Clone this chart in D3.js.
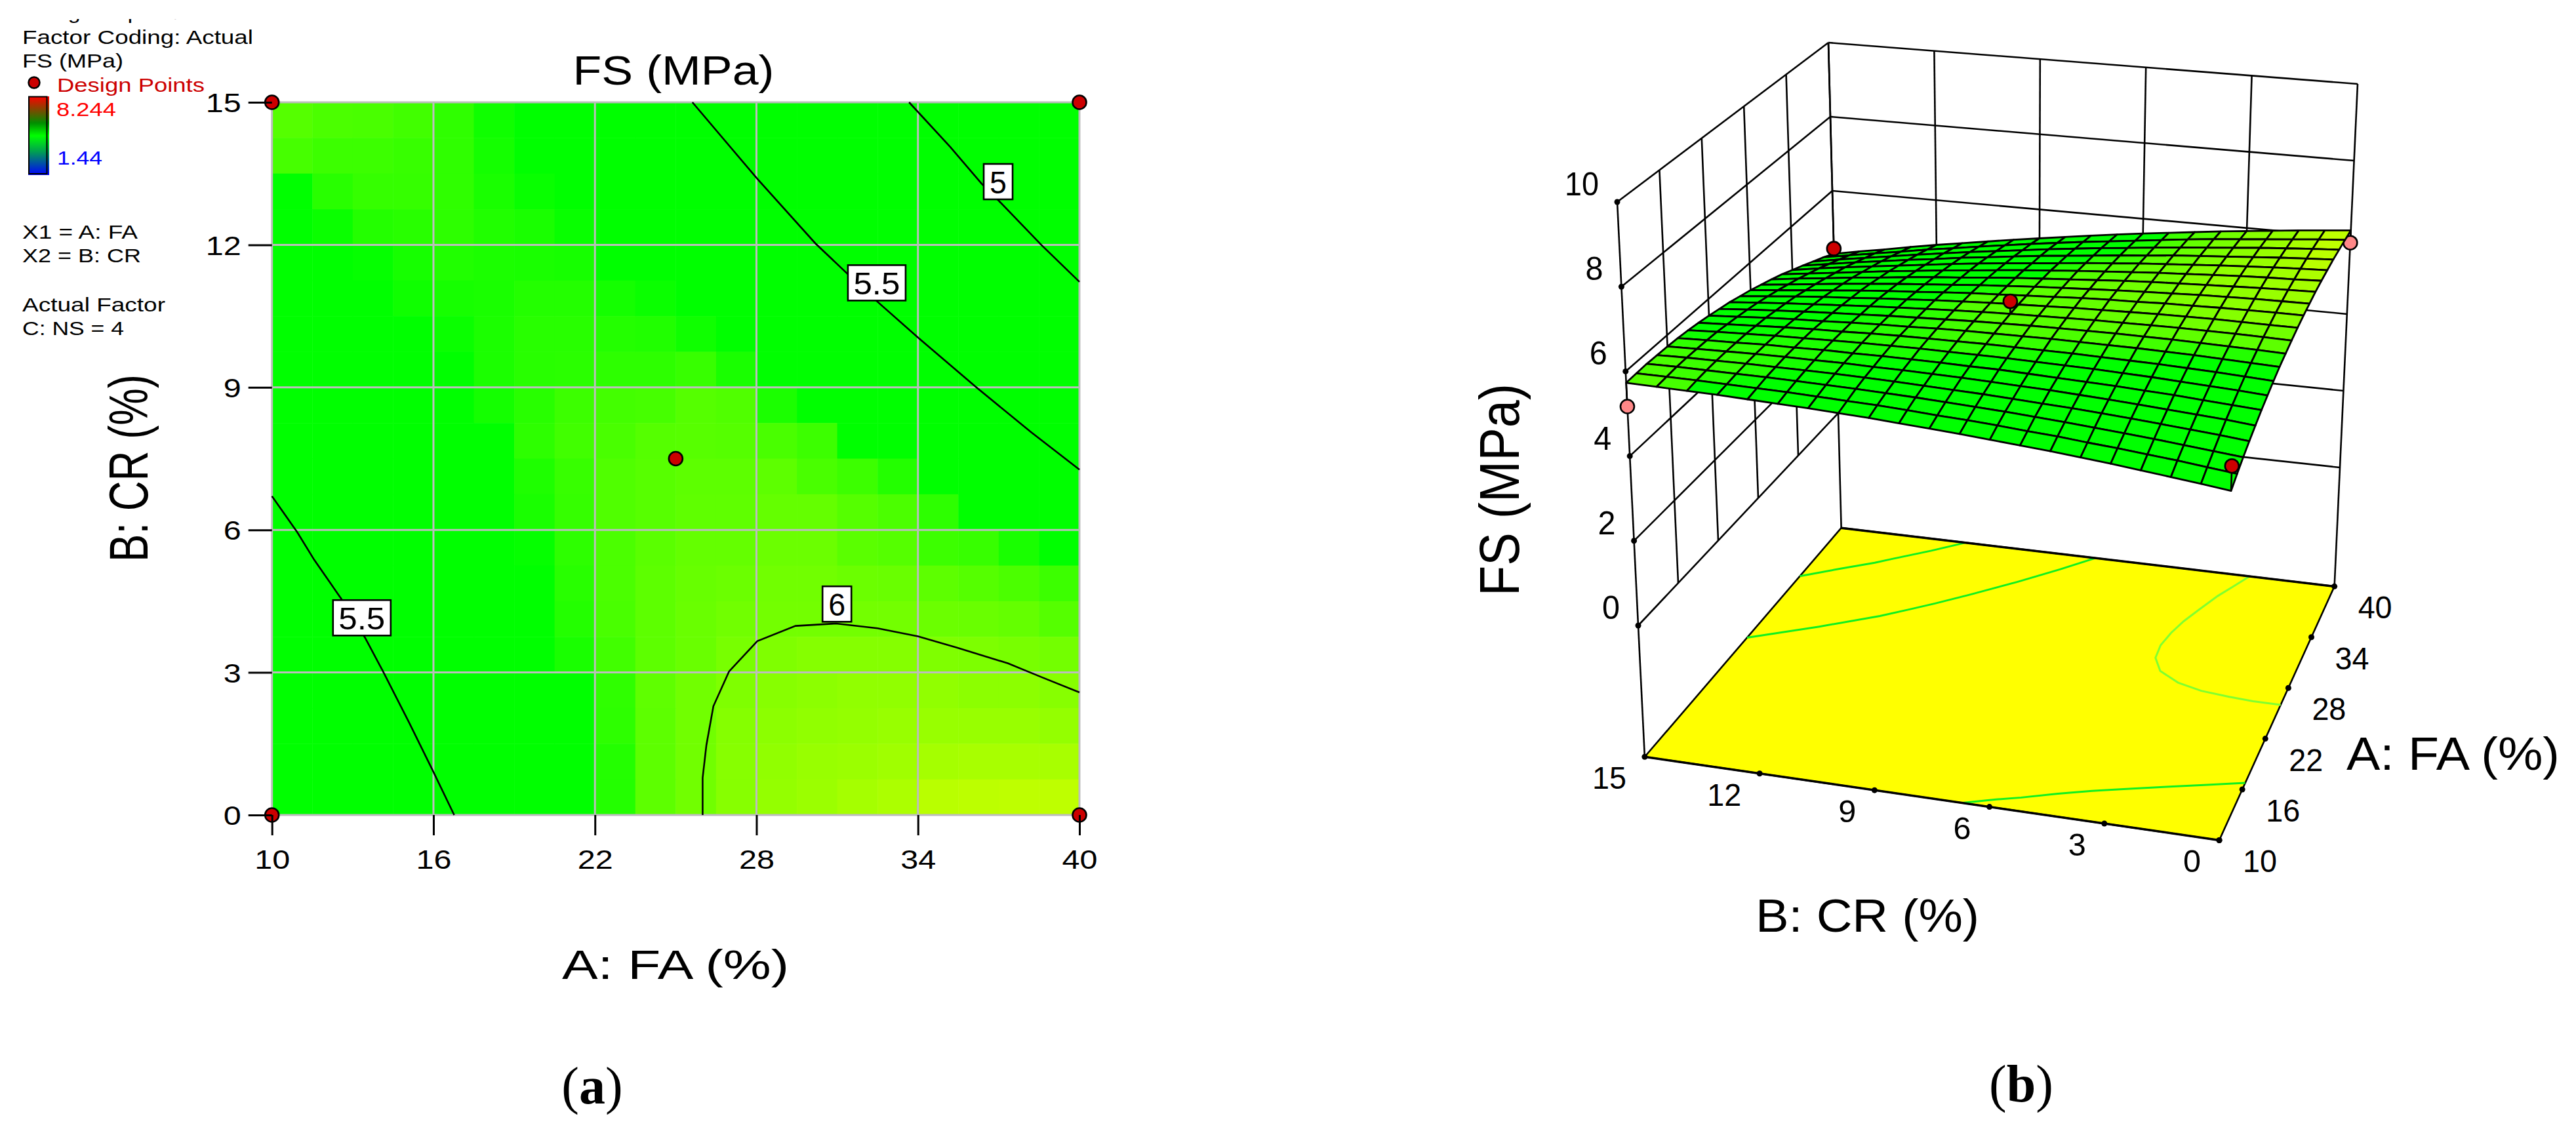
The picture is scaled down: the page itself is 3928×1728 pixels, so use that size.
<!DOCTYPE html>
<html><head><meta charset="utf-8">
<style>html,body{margin:0;padding:0;background:#fff}svg{display:block}text{font-family:"Liberation Sans",Arial,sans-serif}</style>
<script src="https://cdn.jsdelivr.net/npm/d3@7/dist/d3.min.js"></script>
</head><body><svg id="c" width="3928" height="1728"></svg>
<script>
// ---------- data ----------
const chartTitle = "FS (MPa)";
const xTitle = "A: FA (%)";
const yTitle = "B: CR (%)";
const zTitle = "FS (MPa)";
const aTicks = [10,16,22,28,34,40];
const bTicks = [0,3,6,9,12,15];
const zTicks = [0,2,4,6,8,10];
const legendLines = ["Design-Expert® Software","Factor Coding: Actual","FS (MPa)"];
const factorLines = ["X1 = A: FA","X2 = B: CR"];
const actualLines = ["Actual Factor","C: NS = 4"];
const legendHigh = "8.244", legendLow = "1.44", legendPoints = "Design Points";
const captions = ["a","b"];

const designA = [10,40,10,40,25];
const designB = [15,15,0,0,7.5];
const designZ = [5.17,4.44,5.47,5.86,6.23];

const contour5   = [[33.67,15],[35.2,14.06],[36.36,13.29],[37,12.93],[38.58,12],[40,11.22]];
const contour55a = [[25.62,15],[28.03,13.39],[30.19,12.03],[31.4,11.38],[32.46,10.82],[34,10.05],[36.17,9],[38.2,8.06],[40,7.27]];
const contour55b = [[10,6.71],[10.94,5.95],[11.57,5.37],[12.6,4.53],[13.46,3.73],[14.1,3.05],[15.1,1.94],[15.97,.94],[16.77,0]];
const contour6   = [[26,0],[26,.78],[26.14,1.47],[26.4,2.29],[26.98,3.02],[28.03,3.66],[29.45,3.98],[30.96,4.03],[32.5,3.93],[34,3.76],[35.47,3.52],[37.35,3.19],[38.6,2.9],[40,2.58]];
const contourLevels = [5,5.5,5.5,6];
const contourLabelA = [36.98,32.47,13.34,30.99];
const contourLabelB = [13.33,11.2,4.15,4.44];

// FS per map cell: rows from B = 15 down to B = 0, columns A = 10 to 40
const fsCells = [
[5.79,5.75,5.74,5.71,5.64,5.51,5.40,5.40,5.40,5.40,5.40,5.40,5.40,5.40,5.40,5.40,5.40,5.40,5.40,5.40],
[5.73,5.69,5.69,5.67,5.64,5.53,5.40,5.40,5.40,5.40,5.40,5.40,5.40,5.40,5.40,5.40,5.40,5.40,5.40,5.40],
[5.40,5.61,5.66,5.66,5.64,5.55,5.48,5.40,5.40,5.40,5.40,5.40,5.40,5.40,5.40,5.40,5.40,5.40,5.40,5.40],
[5.40,5.49,5.59,5.61,5.63,5.58,5.55,5.48,5.40,5.40,5.40,5.40,5.40,5.40,5.40,5.40,5.40,5.40,5.40,5.40],
[5.40,5.40,5.47,5.54,5.58,5.56,5.55,5.54,5.40,5.40,5.40,5.40,5.40,5.40,5.40,5.40,5.40,5.40,5.40,5.40],
[5.40,5.40,5.40,5.51,5.54,5.55,5.59,5.59,5.53,5.49,5.40,5.40,5.40,5.40,5.40,5.40,5.40,5.40,5.40,5.40],
[5.40,5.40,5.40,5.40,5.49,5.56,5.61,5.61,5.59,5.58,5.51,5.40,5.40,5.40,5.40,5.40,5.40,5.40,5.40,5.40],
[5.40,5.40,5.40,5.40,5.40,5.56,5.61,5.62,5.63,5.63,5.67,5.55,5.40,5.40,5.40,5.40,5.40,5.40,5.40,5.40],
[5.40,5.40,5.40,5.40,5.40,5.53,5.61,5.69,5.72,5.73,5.79,5.77,5.56,5.40,5.40,5.40,5.40,5.40,5.40,5.40],
[5.40,5.40,5.40,5.40,5.40,5.40,5.63,5.71,5.74,5.79,5.80,5.79,5.74,5.69,5.40,5.40,5.40,5.40,5.40,5.40],
[5.40,5.40,5.40,5.40,5.40,5.40,5.57,5.67,5.77,5.80,5.82,5.82,5.82,5.74,5.69,5.59,5.40,5.40,5.40,5.40],
[5.40,5.40,5.40,5.40,5.40,5.40,5.55,5.66,5.77,5.80,5.83,5.83,5.85,5.85,5.79,5.75,5.63,5.40,5.40,5.40],
[5.40,5.40,5.40,5.40,5.40,5.40,5.47,5.63,5.75,5.81,5.85,5.85,5.88,5.88,5.81,5.79,5.69,5.67,5.55,5.40],
[5.40,5.40,5.40,5.40,5.40,5.40,5.40,5.61,5.75,5.82,5.86,5.88,5.90,5.90,5.88,5.87,5.82,5.79,5.75,5.69],
[5.40,5.40,5.40,5.40,5.40,5.40,5.40,5.59,5.74,5.82,5.87,5.90,5.91,5.91,5.91,5.91,5.88,5.87,5.85,5.79],
[5.40,5.40,5.40,5.40,5.40,5.40,5.40,5.55,5.71,5.82,5.87,5.93,5.96,5.98,5.98,5.98,5.96,5.95,5.93,5.91],
[5.40,5.40,5.40,5.40,5.40,5.40,5.40,5.40,5.64,5.83,5.90,5.96,5.99,6.01,6.03,6.03,6.03,6.01,6.01,5.99],
[5.40,5.40,5.40,5.40,5.40,5.40,5.40,5.40,5.63,5.82,5.90,5.98,6.01,6.03,6.04,6.06,6.06,6.06,6.06,6.04],
[5.40,5.40,5.40,5.40,5.40,5.40,5.40,5.40,5.59,5.82,5.90,5.99,6.03,6.06,6.07,6.09,6.11,6.12,6.12,6.12],
[5.40,5.40,5.40,5.40,5.40,5.40,5.40,5.40,5.59,5.82,5.90,5.99,6.04,6.07,6.11,6.14,6.19,6.20,6.21,6.21]
];

// FS at surface mesh nodes: rows from B = 0 up to B = 15, columns A = 10 to 40
const fsNodes = [
[4.90,5.05,5.19,5.32,5.44,5.56,5.66,5.76,5.85,5.92,5.99,6.05,6.10,6.14,6.18,6.20,6.21,6.22,6.21,6.20,6.18],
[4.98,5.12,5.25,5.38,5.50,5.60,5.70,5.79,5.87,5.94,6.00,6.05,6.10,6.13,6.16,6.17,6.18,6.18,6.17,6.15,6.12],
[5.05,5.19,5.31,5.43,5.54,5.64,5.73,5.82,5.89,5.95,6.01,6.05,6.09,6.12,6.14,6.15,6.15,6.14,6.12,6.09,6.06],
[5.12,5.25,5.37,5.48,5.58,5.68,5.76,5.84,5.91,5.96,6.01,6.05,6.08,6.10,6.11,6.12,6.11,6.09,6.07,6.03,5.99],
[5.19,5.31,5.42,5.53,5.62,5.71,5.79,5.86,5.92,5.97,6.01,6.04,6.06,6.08,6.08,6.08,6.07,6.04,6.01,5.97,5.92],
[5.25,5.36,5.47,5.57,5.66,5.74,5.81,5.87,5.93,5.97,6.00,6.03,6.05,6.05,6.05,6.04,6.02,5.99,5.95,5.91,5.85],
[5.31,5.42,5.52,5.61,5.69,5.76,5.83,5.88,5.93,5.97,5.99,6.01,6.02,6.02,6.02,6.00,5.97,5.94,5.89,5.84,5.77],
[5.36,5.46,5.56,5.64,5.72,5.78,5.84,5.89,5.93,5.96,5.98,5.99,6.00,5.99,5.98,5.95,5.92,5.87,5.82,5.76,5.69],
[5.41,5.51,5.60,5.67,5.74,5.80,5.85,5.89,5.93,5.95,5.96,5.97,5.97,5.95,5.93,5.90,5.86,5.81,5.75,5.68,5.61],
[5.46,5.55,5.63,5.70,5.76,5.82,5.86,5.89,5.92,5.94,5.94,5.94,5.93,5.91,5.88,5.85,5.80,5.74,5.68,5.60,5.52],
[5.50,5.58,5.66,5.72,5.78,5.82,5.86,5.89,5.91,5.92,5.92,5.91,5.89,5.87,5.83,5.79,5.73,5.67,5.60,5.52,5.43],
[5.54,5.62,5.69,5.74,5.79,5.83,5.86,5.88,5.90,5.90,5.89,5.88,5.85,5.82,5.78,5.73,5.66,5.60,5.52,5.43,5.33],
[5.58,5.65,5.71,5.76,5.80,5.83,5.86,5.87,5.88,5.87,5.86,5.84,5.81,5.77,5.72,5.66,5.59,5.52,5.43,5.34,5.23],
[5.61,5.67,5.73,5.77,5.80,5.83,5.85,5.86,5.85,5.84,5.82,5.80,5.76,5.71,5.65,5.59,5.52,5.43,5.34,5.24,5.13],
[5.64,5.69,5.74,5.78,5.81,5.82,5.84,5.84,5.83,5.81,5.78,5.75,5.70,5.65,5.59,5.52,5.44,5.35,5.25,5.14,5.02],
[5.66,5.71,5.75,5.78,5.80,5.82,5.82,5.81,5.80,5.77,5.74,5.70,5.65,5.59,5.52,5.44,5.35,5.25,5.15,5.03,4.91],
[5.68,5.72,5.76,5.78,5.80,5.80,5.80,5.79,5.76,5.73,5.69,5.64,5.59,5.52,5.44,5.36,5.26,5.16,5.05,4.93,4.80],
[5.70,5.73,5.76,5.78,5.79,5.79,5.78,5.76,5.73,5.69,5.64,5.59,5.52,5.45,5.37,5.27,5.17,5.06,4.94,4.81,4.68],
[5.71,5.74,5.76,5.77,5.77,5.76,5.75,5.72,5.69,5.64,5.59,5.53,5.45,5.37,5.28,5.18,5.08,4.96,4.83,4.70,4.55],
[5.72,5.74,5.76,5.76,5.75,5.74,5.72,5.68,5.64,5.59,5.53,5.46,5.38,5.29,5.20,5.09,4.98,4.85,4.72,4.58,4.43],
[5.73,5.74,5.75,5.74,5.73,5.71,5.68,5.64,5.59,5.53,5.47,5.39,5.31,5.21,5.11,5.00,4.87,4.74,4.60,4.46,4.30]
];

// ---------- layout ----------
const svg = d3.select("#c");
const defs = svg.append("defs");
const FLOOR = -3.1;
const plot = {l:414.7,r:1646,t:156,b:1243};
const corners3d = {
  front:{z0:[3391,1075],z10:[3413.5,409]},
  right:{z0:[3568,713],z10:[3595,128]},
  left:{z0:[2498,954],z10:[2466,308]},
  back:{z0:[2803,630],z10:[2788,65]}
};
const colorOf = d3.scaleLinear().domain([5.45,6.21]).range(["#00ff00","#beff00"]).clamp(true);

function txt(g,x,y,s,o){
  const t=g.append("text").attr("x",x).attr("y",y).text(s)
    .attr("font-size",o.size).attr("fill",o.fill||"#000")
    .attr("text-anchor",o.anchor||"start");
  if(o.width){t.attr("textLength",o.width).attr("lengthAdjust","spacingAndGlyphs");}
  if(o.rotate!=null){t.attr("transform",`rotate(${o.rotate} ${x} ${y})`);}
  return t;
}

// ---------- legend ----------
const lg = svg.append("g");
defs.append("clipPath").attr("id","cut").append("rect").attr("x",0).attr("y",29).attr("width",500).attr("height",60);
const legendY=[28.5,67,103], legendW=[393,352,154];
legendLines.forEach((s,i)=>{
  const t=txt(lg,34,legendY[i],s,{size:29,width:legendW[i]});
  if(i===0) t.attr("clip-path","url(#cut)");
});
factorLines.forEach((s,i)=>txt(lg,34,[363.5,400][i],s,{size:29,width:[176,181][i]}));
actualLines.forEach((s,i)=>txt(lg,34,[474.5,511][i],s,{size:29,width:[218,155][i]}));
txt(lg,87,140,legendPoints,{size:29,width:225,fill:"#cc0000"});
lg.append("circle").attr("cx",52).attr("cy",126).attr("r",8.5).attr("fill","#cc0000").attr("stroke","#000").attr("stroke-width",2.5);
const grad=defs.append("linearGradient").attr("id","bar").attr("x1",0).attr("y1",0).attr("x2",0).attr("y2",1);
[[0,"#ff0000"],[.34,"#008f00"],[.5,"#00ff00"],[.7,"#00a050"],[1,"#0000ff"]].forEach(d=>grad.append("stop").attr("offset",d[0]).attr("stop-color",d[1]));
lg.append("rect").attr("x",43).attr("y",147).attr("width",32).attr("height",120).attr("fill","url(#bar)");
lg.append("rect").attr("x",44).attr("y",147.5).attr("width",27.5).attr("height",117.5).attr("fill","none").attr("stroke","#000").attr("stroke-width",2);
txt(lg,86,177,legendHigh,{size:29,width:91,fill:"#ff0000"});
txt(lg,87,251,legendLow,{size:29,width:69,fill:"#0000ff"});

// ---------- left: contour map ----------
const x = d3.scaleLinear().domain([10,40]).range([plot.l,plot.r]);
const y = d3.scaleLinear().domain([0,15]).range([plot.b,plot.t]);
const map = svg.append("g");
const nCols=fsCells[0].length, nRows=fsCells.length;
const colX=d3.scaleLinear().domain([0,nCols]).range([plot.l,plot.r]);
const rowY=d3.scaleLinear().domain([0,nRows]).range([plot.t,plot.b]);
map.append("g").selectAll("g").data(fsCells).join("g").each(function(row,r){
  d3.select(this).selectAll("rect").data(row).join("rect")
    .attr("x",(d,c)=>colX(c)).attr("y",rowY(r))
    .attr("width",colX(1)-colX(0)+.5).attr("height",rowY(1)-rowY(0)+.5)
    .attr("fill",d=>colorOf(d));
});
const gridCol="#bdbdbd";
map.append("g").selectAll("line").data(aTicks).join("line")
  .attr("x1",d=>x(d)).attr("x2",d=>x(d)).attr("y1",plot.t).attr("y2",plot.b).attr("stroke",gridCol).attr("stroke-width",3);
map.append("g").selectAll("line").data(bTicks).join("line")
  .attr("y1",d=>y(d)).attr("y2",d=>y(d)).attr("x1",plot.l).attr("x2",plot.r).attr("stroke",gridCol).attr("stroke-width",3);

const lineGen=d3.line().x(d=>x(d[0])).y(d=>y(d[1]));
const contours=[contour5,contour55a,contour55b,contour6];
map.append("g").selectAll("path").data(contours).join("path")
  .attr("d",lineGen).attr("fill","none").attr("stroke","#000").attr("stroke-width",2.6);
contourLevels.forEach((lv,i)=>{
  const cx=x(contourLabelA[i]), cy=y(contourLabelB[i]);
  const s=String(lv), w=s.length>1?88:44;
  map.append("rect").attr("x",cx-w/2).attr("y",cy-27).attr("width",w).attr("height",54)
    .attr("fill","#fff").attr("stroke","#000").attr("stroke-width",2.6);
  txt(map,cx,cy+17.5,s,{size:49,width:s.length>1?71:26,anchor:"middle"});
});

const xAxis=svg.append("g").attr("transform",`translate(0,${plot.b})`)
  .call(d3.axisBottom(x).tickValues(aTicks).tickSize(31).tickPadding(51));
const yAxis=svg.append("g").attr("transform",`translate(${plot.l},0)`)
  .call(d3.axisLeft(y).tickValues(bTicks).tickSize(36).tickPadding(11));
[xAxis,yAxis].forEach(a=>{
  a.select(".domain").remove();
  a.selectAll(".tick line").attr("stroke","#000").attr("stroke-width",3);
  a.selectAll(".tick text").attr("fill","#000").attr("font-size",41).attr("font-family",'"Liberation Sans"')
    .attr("dy",0).attr("lengthAdjust","spacingAndGlyphs")
    .attr("textLength",function(){return this.textContent.length>1?54:27;});
});
yAxis.selectAll(".tick text").attr("dy","0.36em");

map.append("g").selectAll("circle").data(designA).join("circle")
  .attr("cx",d=>x(d)).attr("cy",(d,i)=>y(designB[i])).attr("r",10.5)
  .attr("fill","#cc0000").attr("stroke","#000").attr("stroke-width",2.6);

txt(svg,1027,129,chartTitle,{size:63,width:307,anchor:"middle"});
txt(svg,1030,1493,xTitle,{size:63,width:346,anchor:"middle"});
txt(svg,225,714,yTitle,{size:84,width:286,anchor:"middle",rotate:-90});

// ---------- right: 3D surface ----------
const ua=d3.scaleLinear().domain([10,40]).range([0,1]);
const ub=d3.scaleLinear().domain([0,15]).range([0,1]);
const uz=d3.scaleLinear().domain([0,10]).range([0,1]);
function proj(A,B,Z){
  const a=ua(A),b=ub(B),z=uz(Z),pt=k=>{
    const c=corners3d[k];return [c.z0[0]+(c.z10[0]-c.z0[0])*z,c.z0[1]+(c.z10[1]-c.z0[1])*z];};
  const f=pt("front"),r=pt("right"),l=pt("left"),k=pt("back");
  const out=[0,1].map(i=>(1-a)*(1-b)*f[i]+a*(1-b)*r[i]+(1-a)*b*l[i]+a*b*k[i]);
  return out;
}
const s3=svg.append("g");
const wallLine=(p,q,w)=>s3.append("line").attr("x1",p[0]).attr("y1",p[1]).attr("x2",q[0]).attr("y2",q[1]).attr("stroke","#000").attr("stroke-width",w||2.6);

// floor
const floorPts=[[10,0],[40,0],[40,15],[10,15]].map(d=>proj(d[0],d[1],FLOOR));
s3.append("polygon").attr("points",floorPts.map(d=>d.join(",")).join(" ")).attr("fill","#ffff00").attr("stroke","#000").attr("stroke-width",2.6).attr("stroke-linejoin","round");
const line3=d3.line().x(d=>d[0]).y(d=>d[1]);
s3.append("g").selectAll("path").data(contours).join("path")
  .attr("d",c=>line3(c.map(d=>proj(d[0],d[1],FLOOR))))
  .attr("fill","none").attr("stroke",(c,i)=>contourLevels[i]>=6?"#80ff30":"#10f020").attr("stroke-width",3);
wallLine(proj(10,0,FLOOR),proj(10,15,FLOOR),3.5);
wallLine(proj(40,0,FLOOR),proj(40,15,FLOOR),3.5);

// walls
zTicks.forEach(z=>{ wallLine(proj(10,15,z),proj(40,15,z)); wallLine(proj(40,15,z),proj(40,0,z)); });
aTicks.forEach(a=>{ wallLine(proj(a,15,0),proj(a,15,10)); });
bTicks.forEach(b=>{ wallLine(proj(40,b,0),proj(40,b,10)); });
[[10,15],[40,15],[40,0]].forEach(d=>wallLine(proj(d[0],d[1],FLOOR),proj(d[0],d[1],0)));

// ticks
const dot=p=>s3.append("circle").attr("cx",p[0]).attr("cy",p[1]).attr("r",4.5).attr("fill","#000");
zTicks.forEach(z=>{
  const p=proj(10,15,z); dot(p);
  txt(s3,p[0]-28,p[1]-10,String(z),{size:50,width:String(z).length>1?52:27,anchor:"end"});
});
bTicks.forEach(b=>{
  const p=proj(10,b,FLOOR); dot(p);
  txt(s3,p[0]-28,p[1]+49,String(b),{size:49,width:String(b).length>1?52:27,anchor:"end"});
});
aTicks.forEach(a=>{
  const p=proj(a,0,FLOOR); dot(p);
  txt(s3,p[0]+36,p[1]+49,String(a),{size:49,width:52});
});

// design points
const aNode=d3.scaleLinear().domain([0,20]).range([10,40]);
const bNode=d3.scaleLinear().domain([0,20]).range([0,15]);
const nodeOf=(A,B)=>fsNodes[Math.round(bNode.invert(B))][Math.round(aNode.invert(A))];
function drawDesign(i){
  const A=designA[i],B=designB[i],Z=designZ[i],above=Z>nodeOf(A,B);
  const p=proj(A,B,Z),q=proj(A,B,nodeOf(A,B));
  wallLine(p,q,2.6);
  s3.append("circle").attr("cx",p[0]).attr("cy",p[1]).attr("r",10.5)
    .attr("fill",above?"#cc0000":"#ff8888").attr("stroke","#000").attr("stroke-width",2.6);
}
designA.forEach((d,i)=>{ if(designZ[i]<=nodeOf(d,designB[i])) drawDesign(i); });

// surface, far cells first
const cells=[];
for(let j=19;j>=0;j--) for(let i=19;i>=0;i--) cells.push({i,j});
s3.append("g").selectAll("polygon").data(cells).join("polygon")
  .attr("points",({i,j})=>[[i,j],[i+1,j],[i+1,j+1],[i,j+1]]
     .map(([n,m])=>proj(aNode(n),bNode(m),fsNodes[m][n]).join(",")).join(" "))
  .attr("fill",({i,j})=>colorOf(fsCells[19-j][i]))
  .attr("stroke","#000").attr("stroke-width",2.8).attr("stroke-linejoin","round");

designA.forEach((d,i)=>{ if(designZ[i]>nodeOf(d,designB[i])) drawDesign(i); });

txt(svg,2316,747,zTitle,{size:85,width:324,anchor:"middle",rotate:-90});
txt(svg,3578,1174,xTitle,{size:71,width:325});
txt(svg,2677,1421,yTitle,{size:70,width:341});

// ---------- captions ----------
[[903,1683],[3082,1680]].forEach((p,i)=>{
  svg.append("text").attr("x",p[0]).attr("y",p[1]).attr("text-anchor","middle").attr("font-size",80)
    .style("font-family",'"Liberation Serif",serif')
    .call(t=>{t.append("tspan").text("(");t.append("tspan").attr("font-weight","bold").text(captions[i]);t.append("tspan").text(")");});
});
</script></body></html>
